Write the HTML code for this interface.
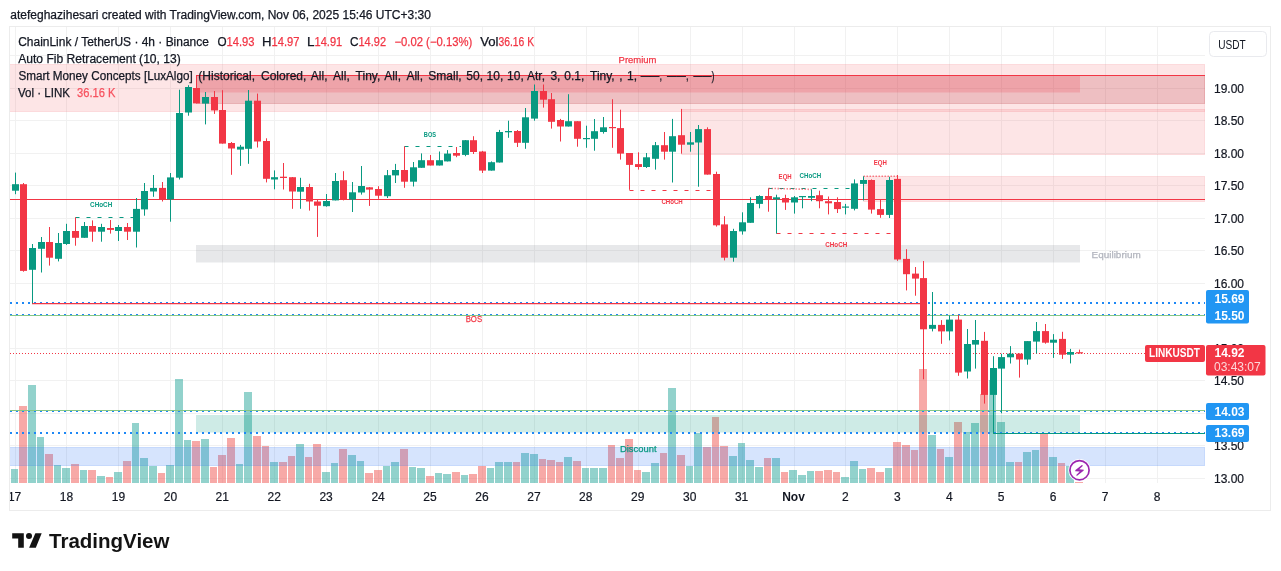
<!DOCTYPE html>
<html><head><meta charset="utf-8">
<style>
html,body{margin:0;padding:0;background:#fff;width:1281px;height:571px;overflow:hidden}
svg{position:absolute;left:0;top:0;font-family:"Liberation Sans", sans-serif;will-change:transform}
</style></head><body>
<svg width="1281" height="571" viewBox="0 0 1281 571">
<rect x="0" y="0" width="1281" height="571" fill="#fff"/>
<text x="10.3" y="19" font-size="12" fill="#131722" stroke="#131722" stroke-width="0.25" textLength="420.6" lengthAdjust="spacingAndGlyphs">atefeghazihesari created with TradingView.com, Nov 06, 2025 15:46 UTC+3:30</text>
<rect x="9.5" y="26.5" width="1261" height="484" fill="none" stroke="#ececec" stroke-width="1"/>
<defs><clipPath id="pane"><rect x="10" y="27" width="1195" height="483"/></clipPath></defs>
<g clip-path="url(#pane)">
<line x1="15.5" y1="27" x2="15.5" y2="483" stroke="#f1f1f1" stroke-width="1"/>
<line x1="66.5" y1="27" x2="66.5" y2="483" stroke="#f1f1f1" stroke-width="1"/>
<line x1="118.5" y1="27" x2="118.5" y2="483" stroke="#f1f1f1" stroke-width="1"/>
<line x1="170.5" y1="27" x2="170.5" y2="483" stroke="#f1f1f1" stroke-width="1"/>
<line x1="222.5" y1="27" x2="222.5" y2="483" stroke="#f1f1f1" stroke-width="1"/>
<line x1="274.5" y1="27" x2="274.5" y2="483" stroke="#f1f1f1" stroke-width="1"/>
<line x1="326.5" y1="27" x2="326.5" y2="483" stroke="#f1f1f1" stroke-width="1"/>
<line x1="378.5" y1="27" x2="378.5" y2="483" stroke="#f1f1f1" stroke-width="1"/>
<line x1="430.5" y1="27" x2="430.5" y2="483" stroke="#f1f1f1" stroke-width="1"/>
<line x1="482.5" y1="27" x2="482.5" y2="483" stroke="#f1f1f1" stroke-width="1"/>
<line x1="534.5" y1="27" x2="534.5" y2="483" stroke="#f1f1f1" stroke-width="1"/>
<line x1="586.5" y1="27" x2="586.5" y2="483" stroke="#f1f1f1" stroke-width="1"/>
<line x1="638.5" y1="27" x2="638.5" y2="483" stroke="#f1f1f1" stroke-width="1"/>
<line x1="690.5" y1="27" x2="690.5" y2="483" stroke="#f1f1f1" stroke-width="1"/>
<line x1="742.5" y1="27" x2="742.5" y2="483" stroke="#f1f1f1" stroke-width="1"/>
<line x1="794.5" y1="27" x2="794.5" y2="483" stroke="#f1f1f1" stroke-width="1"/>
<line x1="845.5" y1="27" x2="845.5" y2="483" stroke="#f1f1f1" stroke-width="1"/>
<line x1="897.5" y1="27" x2="897.5" y2="483" stroke="#f1f1f1" stroke-width="1"/>
<line x1="949.5" y1="27" x2="949.5" y2="483" stroke="#f1f1f1" stroke-width="1"/>
<line x1="1001.5" y1="27" x2="1001.5" y2="483" stroke="#f1f1f1" stroke-width="1"/>
<line x1="1053.5" y1="27" x2="1053.5" y2="483" stroke="#f1f1f1" stroke-width="1"/>
<line x1="1105.5" y1="27" x2="1105.5" y2="483" stroke="#f1f1f1" stroke-width="1"/>
<line x1="1157.5" y1="27" x2="1157.5" y2="483" stroke="#f1f1f1" stroke-width="1"/>
<line x1="10" y1="55.5" x2="1205" y2="55.5" stroke="#f1f1f1" stroke-width="1"/>
<line x1="10" y1="88.5" x2="1205" y2="88.5" stroke="#f1f1f1" stroke-width="1"/>
<line x1="10" y1="120.5" x2="1205" y2="120.5" stroke="#f1f1f1" stroke-width="1"/>
<line x1="10" y1="153.5" x2="1205" y2="153.5" stroke="#f1f1f1" stroke-width="1"/>
<line x1="10" y1="185.5" x2="1205" y2="185.5" stroke="#f1f1f1" stroke-width="1"/>
<line x1="10" y1="218.5" x2="1205" y2="218.5" stroke="#f1f1f1" stroke-width="1"/>
<line x1="10" y1="250.5" x2="1205" y2="250.5" stroke="#f1f1f1" stroke-width="1"/>
<line x1="10" y1="283.5" x2="1205" y2="283.5" stroke="#f1f1f1" stroke-width="1"/>
<line x1="10" y1="315.5" x2="1205" y2="315.5" stroke="#f1f1f1" stroke-width="1"/>
<line x1="10" y1="348.5" x2="1205" y2="348.5" stroke="#f1f1f1" stroke-width="1"/>
<line x1="10" y1="380.5" x2="1205" y2="380.5" stroke="#f1f1f1" stroke-width="1"/>
<line x1="10" y1="413.5" x2="1205" y2="413.5" stroke="#f1f1f1" stroke-width="1"/>
<line x1="10" y1="445.5" x2="1205" y2="445.5" stroke="#f1f1f1" stroke-width="1"/>
<line x1="10" y1="478.5" x2="1205" y2="478.5" stroke="#f1f1f1" stroke-width="1"/>
<rect x="11" y="469" width="7" height="14" fill="rgba(38,166,154,0.5)"/>
<rect x="19" y="406" width="8" height="77" fill="rgba(239,83,80,0.5)"/>
<rect x="28" y="385" width="8" height="98" fill="rgba(38,166,154,0.5)"/>
<rect x="37" y="437" width="7" height="46" fill="rgba(38,166,154,0.5)"/>
<rect x="45" y="454" width="8" height="29" fill="rgba(239,83,80,0.5)"/>
<rect x="54" y="465" width="7" height="18" fill="rgba(38,166,154,0.5)"/>
<rect x="62" y="468" width="8" height="15" fill="rgba(38,166,154,0.5)"/>
<rect x="71" y="464" width="8" height="19" fill="rgba(239,83,80,0.5)"/>
<rect x="80" y="470" width="7" height="13" fill="rgba(38,166,154,0.5)"/>
<rect x="88" y="470" width="8" height="13" fill="rgba(239,83,80,0.5)"/>
<rect x="97" y="476" width="8" height="7" fill="rgba(38,166,154,0.5)"/>
<rect x="106" y="477" width="7" height="6" fill="rgba(239,83,80,0.5)"/>
<rect x="114" y="472" width="8" height="11" fill="rgba(38,166,154,0.5)"/>
<rect x="123" y="461" width="8" height="22" fill="rgba(239,83,80,0.5)"/>
<rect x="132" y="423" width="7" height="60" fill="rgba(38,166,154,0.5)"/>
<rect x="140" y="458" width="8" height="25" fill="rgba(38,166,154,0.5)"/>
<rect x="149" y="466" width="8" height="17" fill="rgba(38,166,154,0.5)"/>
<rect x="158" y="473" width="7" height="10" fill="rgba(239,83,80,0.5)"/>
<rect x="166" y="465" width="8" height="18" fill="rgba(38,166,154,0.5)"/>
<rect x="175" y="379" width="8" height="104" fill="rgba(38,166,154,0.5)"/>
<rect x="184" y="440" width="7" height="43" fill="rgba(38,166,154,0.5)"/>
<rect x="192" y="441" width="8" height="42" fill="rgba(239,83,80,0.5)"/>
<rect x="201" y="439" width="8" height="44" fill="rgba(38,166,154,0.5)"/>
<rect x="210" y="467" width="7" height="16" fill="rgba(239,83,80,0.5)"/>
<rect x="218" y="455" width="8" height="28" fill="rgba(239,83,80,0.5)"/>
<rect x="227" y="438" width="8" height="45" fill="rgba(239,83,80,0.5)"/>
<rect x="236" y="464" width="7" height="19" fill="rgba(38,166,154,0.5)"/>
<rect x="244" y="392" width="8" height="91" fill="rgba(38,166,154,0.5)"/>
<rect x="253" y="436" width="8" height="47" fill="rgba(239,83,80,0.5)"/>
<rect x="262" y="446" width="7" height="37" fill="rgba(239,83,80,0.5)"/>
<rect x="270" y="462" width="8" height="21" fill="rgba(38,166,154,0.5)"/>
<rect x="279" y="462" width="8" height="21" fill="rgba(239,83,80,0.5)"/>
<rect x="288" y="456" width="7" height="27" fill="rgba(239,83,80,0.5)"/>
<rect x="296" y="444" width="8" height="39" fill="rgba(38,166,154,0.5)"/>
<rect x="305" y="457" width="7" height="26" fill="rgba(239,83,80,0.5)"/>
<rect x="313" y="444" width="8" height="39" fill="rgba(239,83,80,0.5)"/>
<rect x="322" y="472" width="8" height="11" fill="rgba(38,166,154,0.5)"/>
<rect x="331" y="463" width="7" height="20" fill="rgba(38,166,154,0.5)"/>
<rect x="339" y="449" width="8" height="34" fill="rgba(239,83,80,0.5)"/>
<rect x="348" y="455" width="8" height="28" fill="rgba(38,166,154,0.5)"/>
<rect x="357" y="461" width="7" height="22" fill="rgba(38,166,154,0.5)"/>
<rect x="365" y="473" width="8" height="10" fill="rgba(239,83,80,0.5)"/>
<rect x="374" y="470" width="8" height="13" fill="rgba(239,83,80,0.5)"/>
<rect x="383" y="466" width="7" height="17" fill="rgba(38,166,154,0.5)"/>
<rect x="391" y="462" width="8" height="21" fill="rgba(38,166,154,0.5)"/>
<rect x="400" y="449" width="8" height="34" fill="rgba(239,83,80,0.5)"/>
<rect x="409" y="467" width="7" height="16" fill="rgba(38,166,154,0.5)"/>
<rect x="417" y="468" width="8" height="15" fill="rgba(38,166,154,0.5)"/>
<rect x="426" y="476" width="8" height="7" fill="rgba(239,83,80,0.5)"/>
<rect x="435" y="473" width="7" height="10" fill="rgba(38,166,154,0.5)"/>
<rect x="443" y="474" width="8" height="9" fill="rgba(38,166,154,0.5)"/>
<rect x="452" y="472" width="8" height="11" fill="rgba(239,83,80,0.5)"/>
<rect x="461" y="475" width="7" height="8" fill="rgba(38,166,154,0.5)"/>
<rect x="469" y="474" width="8" height="9" fill="rgba(239,83,80,0.5)"/>
<rect x="478" y="466" width="8" height="17" fill="rgba(239,83,80,0.5)"/>
<rect x="487" y="468" width="7" height="15" fill="rgba(38,166,154,0.5)"/>
<rect x="495" y="462" width="8" height="21" fill="rgba(38,166,154,0.5)"/>
<rect x="504" y="462" width="8" height="21" fill="rgba(38,166,154,0.5)"/>
<rect x="513" y="462" width="7" height="21" fill="rgba(239,83,80,0.5)"/>
<rect x="521" y="453" width="8" height="30" fill="rgba(38,166,154,0.5)"/>
<rect x="530" y="454" width="8" height="29" fill="rgba(38,166,154,0.5)"/>
<rect x="539" y="459" width="7" height="24" fill="rgba(239,83,80,0.5)"/>
<rect x="547" y="460" width="8" height="23" fill="rgba(239,83,80,0.5)"/>
<rect x="556" y="462" width="7" height="21" fill="rgba(239,83,80,0.5)"/>
<rect x="564" y="457" width="8" height="26" fill="rgba(38,166,154,0.5)"/>
<rect x="573" y="461" width="8" height="22" fill="rgba(239,83,80,0.5)"/>
<rect x="582" y="468" width="7" height="15" fill="rgba(38,166,154,0.5)"/>
<rect x="590" y="468" width="8" height="15" fill="rgba(38,166,154,0.5)"/>
<rect x="599" y="468" width="8" height="15" fill="rgba(38,166,154,0.5)"/>
<rect x="608" y="445" width="7" height="38" fill="rgba(239,83,80,0.5)"/>
<rect x="616" y="458" width="8" height="25" fill="rgba(239,83,80,0.5)"/>
<rect x="625" y="439" width="8" height="44" fill="rgba(239,83,80,0.5)"/>
<rect x="634" y="470" width="7" height="13" fill="rgba(239,83,80,0.5)"/>
<rect x="642" y="472" width="8" height="11" fill="rgba(38,166,154,0.5)"/>
<rect x="651" y="463" width="8" height="20" fill="rgba(38,166,154,0.5)"/>
<rect x="660" y="453" width="7" height="30" fill="rgba(239,83,80,0.5)"/>
<rect x="668" y="388" width="8" height="95" fill="rgba(38,166,154,0.5)"/>
<rect x="677" y="455" width="8" height="28" fill="rgba(239,83,80,0.5)"/>
<rect x="686" y="466" width="7" height="17" fill="rgba(38,166,154,0.5)"/>
<rect x="694" y="433" width="8" height="50" fill="rgba(38,166,154,0.5)"/>
<rect x="703" y="447" width="8" height="36" fill="rgba(239,83,80,0.5)"/>
<rect x="712" y="417" width="7" height="66" fill="rgba(239,83,80,0.5)"/>
<rect x="720" y="446" width="8" height="37" fill="rgba(239,83,80,0.5)"/>
<rect x="729" y="456" width="8" height="27" fill="rgba(38,166,154,0.5)"/>
<rect x="738" y="443" width="7" height="40" fill="rgba(38,166,154,0.5)"/>
<rect x="746" y="460" width="8" height="23" fill="rgba(38,166,154,0.5)"/>
<rect x="755" y="467" width="8" height="16" fill="rgba(38,166,154,0.5)"/>
<rect x="764" y="458" width="7" height="25" fill="rgba(239,83,80,0.5)"/>
<rect x="772" y="458" width="8" height="25" fill="rgba(38,166,154,0.5)"/>
<rect x="781" y="472" width="7" height="11" fill="rgba(239,83,80,0.5)"/>
<rect x="789" y="470" width="8" height="13" fill="rgba(38,166,154,0.5)"/>
<rect x="798" y="475" width="8" height="8" fill="rgba(38,166,154,0.5)"/>
<rect x="807" y="471" width="7" height="12" fill="rgba(38,166,154,0.5)"/>
<rect x="815" y="471" width="8" height="12" fill="rgba(239,83,80,0.5)"/>
<rect x="824" y="470" width="8" height="13" fill="rgba(239,83,80,0.5)"/>
<rect x="833" y="472" width="7" height="11" fill="rgba(239,83,80,0.5)"/>
<rect x="841" y="477" width="8" height="6" fill="rgba(38,166,154,0.5)"/>
<rect x="850" y="461" width="8" height="22" fill="rgba(38,166,154,0.5)"/>
<rect x="859" y="469" width="7" height="14" fill="rgba(38,166,154,0.5)"/>
<rect x="867" y="468" width="8" height="15" fill="rgba(239,83,80,0.5)"/>
<rect x="876" y="472" width="8" height="11" fill="rgba(239,83,80,0.5)"/>
<rect x="885" y="468" width="7" height="15" fill="rgba(38,166,154,0.5)"/>
<rect x="893" y="442" width="8" height="41" fill="rgba(239,83,80,0.5)"/>
<rect x="902" y="445" width="8" height="38" fill="rgba(239,83,80,0.5)"/>
<rect x="911" y="450" width="7" height="33" fill="rgba(239,83,80,0.5)"/>
<rect x="919" y="369" width="8" height="114" fill="rgba(239,83,80,0.5)"/>
<rect x="928" y="435" width="8" height="48" fill="rgba(38,166,154,0.5)"/>
<rect x="937" y="449" width="7" height="34" fill="rgba(239,83,80,0.5)"/>
<rect x="945" y="457" width="8" height="26" fill="rgba(38,166,154,0.5)"/>
<rect x="954" y="422" width="8" height="61" fill="rgba(239,83,80,0.5)"/>
<rect x="963" y="432" width="7" height="51" fill="rgba(38,166,154,0.5)"/>
<rect x="971" y="423" width="8" height="60" fill="rgba(38,166,154,0.5)"/>
<rect x="980" y="394" width="8" height="89" fill="rgba(239,83,80,0.5)"/>
<rect x="989" y="380" width="7" height="103" fill="rgba(38,166,154,0.5)"/>
<rect x="997" y="422" width="8" height="61" fill="rgba(38,166,154,0.5)"/>
<rect x="1006" y="462" width="8" height="21" fill="rgba(38,166,154,0.5)"/>
<rect x="1015" y="462" width="7" height="21" fill="rgba(239,83,80,0.5)"/>
<rect x="1023" y="452" width="8" height="31" fill="rgba(38,166,154,0.5)"/>
<rect x="1032" y="450" width="7" height="33" fill="rgba(38,166,154,0.5)"/>
<rect x="1040" y="434" width="8" height="49" fill="rgba(239,83,80,0.5)"/>
<rect x="1049" y="457" width="8" height="26" fill="rgba(38,166,154,0.5)"/>
<rect x="1058" y="463" width="7" height="20" fill="rgba(239,83,80,0.5)"/>
<rect x="1066" y="466" width="8" height="17" fill="rgba(38,166,154,0.5)"/>
<rect x="1075" y="482" width="8" height="1" fill="rgba(239,83,80,0.5)"/>
<rect x="9.5" y="64.5" width="1195.5" height="47" fill="rgba(247,124,128,0.2)" stroke="rgba(247,124,128,0.2)" stroke-width="1"/>
<rect x="196.5" y="75.5" width="1008.5" height="28" fill="rgba(178,40,51,0.2)" stroke="rgba(178,40,51,0.2)"/>
<rect x="196" y="75.5" width="884" height="17" fill="rgba(242,54,69,0.2)"/>
<rect x="681.5" y="109.5" width="523.5" height="45" fill="rgba(247,124,128,0.2)" stroke="rgba(247,124,128,0.2)"/>
<rect x="863.5" y="176.5" width="341.5" height="25" fill="rgba(247,124,128,0.2)" stroke="rgba(247,124,128,0.2)"/>
<rect x="196" y="245" width="884" height="17.5" fill="rgba(135,139,148,0.2)"/>
<rect x="196" y="415" width="884" height="17.5" fill="rgba(8,153,129,0.2)"/>
<rect x="9.5" y="447.5" width="1195.5" height="18" fill="rgba(49,121,245,0.2)" stroke="rgba(49,121,245,0.2)"/>
<line x1="10" y1="303" x2="1205" y2="303" stroke="#1e88f5" stroke-width="2" stroke-dasharray="2 4"/>
<line x1="10" y1="315" x2="1205" y2="315" stroke="#1e88f5" stroke-width="2" stroke-dasharray="2 4"/>
<line x1="10" y1="411" x2="1205" y2="411" stroke="#1e88f5" stroke-width="2" stroke-dasharray="2 4"/>
<line x1="10" y1="433" x2="1205" y2="433" stroke="#1e88f5" stroke-width="2" stroke-dasharray="2 4"/>
<line x1="196" y1="75.5" x2="1205" y2="75.5" stroke="#f23645" stroke-width="1.2"/>
<line x1="10" y1="199.5" x2="1205" y2="199.5" stroke="#f23645" stroke-width="1.2"/>
<line x1="32" y1="303.6" x2="920" y2="303.6" stroke="#f23645" stroke-width="1.2"/>
<line x1="10" y1="315.5" x2="1205" y2="315.5" stroke="#85c686" stroke-width="1"/>
<line x1="10" y1="353.5" x2="1145" y2="353.5" stroke="#f23645" stroke-width="1" stroke-dasharray="1 2"/>
<line x1="10" y1="410.5" x2="1205" y2="410.5" stroke="#85c686" stroke-width="1"/>
<line x1="993" y1="433.5" x2="1205" y2="433.5" stroke="#089981" stroke-width="1"/>
<line x1="75.5" y1="217.5" x2="133" y2="217.5" stroke="#089981" stroke-width="1" stroke-dasharray="4 7"/>
<line x1="404.5" y1="146.5" x2="461" y2="146.5" stroke="#089981" stroke-width="1" stroke-dasharray="4 7"/>
<line x1="629.5" y1="190.5" x2="712" y2="190.5" stroke="#f23645" stroke-width="1" stroke-dasharray="4 7"/>
<line x1="768.5" y1="188.5" x2="851" y2="188.5" stroke="#089981" stroke-width="1" stroke-dasharray="4 7"/>
<line x1="768.5" y1="188.4" x2="811.5" y2="189.4" stroke="rgba(242,54,69,0.6)" stroke-width="1.6" stroke-dasharray="1.5 1.5"/>
<line x1="776.5" y1="233.5" x2="891" y2="233.5" stroke="#f23645" stroke-width="1" stroke-dasharray="4 7"/>
<line x1="863.5" y1="176.2" x2="897" y2="176.2" stroke="rgba(242,54,69,0.6)" stroke-width="1.6" stroke-dasharray="1.5 1.5"/>
<rect x="15" y="172.6" width="1" height="21.6" fill="#089981"/>
<rect x="12" y="184.2" width="7" height="6.5" fill="#089981"/>
<rect x="23" y="183.0" width="1" height="88.7" fill="#f23645"/>
<rect x="20" y="184.2" width="7" height="86.7" fill="#f23645"/>
<rect x="32" y="244.0" width="1" height="59.2" fill="#089981"/>
<rect x="29" y="248.0" width="7" height="21.8" fill="#089981"/>
<rect x="41" y="237.0" width="1" height="35.5" fill="#089981"/>
<rect x="38" y="242.0" width="7" height="6.8" fill="#089981"/>
<rect x="49" y="227.0" width="1" height="38.6" fill="#f23645"/>
<rect x="46" y="242.0" width="7" height="15.7" fill="#f23645"/>
<rect x="58" y="233.0" width="1" height="28.4" fill="#089981"/>
<rect x="55" y="243.0" width="7" height="15.8" fill="#089981"/>
<rect x="66" y="223.8" width="1" height="21.1" fill="#089981"/>
<rect x="63" y="231.0" width="7" height="13.0" fill="#089981"/>
<rect x="75" y="217.3" width="1" height="28.4" fill="#f23645"/>
<rect x="72" y="231.0" width="7" height="6.8" fill="#f23645"/>
<rect x="84" y="222.0" width="1" height="15.8" fill="#089981"/>
<rect x="81" y="226.0" width="7" height="11.8" fill="#089981"/>
<rect x="92" y="220.4" width="1" height="21.3" fill="#f23645"/>
<rect x="89" y="226.0" width="7" height="5.7" fill="#f23645"/>
<rect x="101" y="223.8" width="1" height="17.9" fill="#089981"/>
<rect x="98" y="227.0" width="7" height="4.7" fill="#089981"/>
<rect x="110" y="220.0" width="1" height="13.6" fill="#f23645"/>
<rect x="107" y="228.0" width="7" height="1.9" fill="#f23645"/>
<rect x="118" y="225.0" width="1" height="16.0" fill="#089981"/>
<rect x="115" y="227.0" width="7" height="4.0" fill="#089981"/>
<rect x="127" y="223.0" width="1" height="17.0" fill="#f23645"/>
<rect x="124" y="227.0" width="7" height="4.7" fill="#f23645"/>
<rect x="136" y="198.0" width="1" height="49.5" fill="#089981"/>
<rect x="133" y="208.9" width="7" height="22.8" fill="#089981"/>
<rect x="144" y="183.0" width="1" height="32.7" fill="#089981"/>
<rect x="141" y="191.0" width="7" height="18.4" fill="#089981"/>
<rect x="153" y="175.0" width="1" height="21.8" fill="#089981"/>
<rect x="150" y="187.9" width="7" height="3.6" fill="#089981"/>
<rect x="162" y="182.0" width="1" height="19.5" fill="#f23645"/>
<rect x="159" y="187.9" width="7" height="12.1" fill="#f23645"/>
<rect x="170" y="173.0" width="1" height="48.7" fill="#089981"/>
<rect x="167" y="177.4" width="7" height="22.0" fill="#089981"/>
<rect x="179" y="89.7" width="1" height="89.8" fill="#089981"/>
<rect x="176" y="113.0" width="7" height="64.7" fill="#089981"/>
<rect x="188" y="85.2" width="1" height="30.5" fill="#089981"/>
<rect x="185" y="87.0" width="7" height="25.5" fill="#089981"/>
<rect x="196" y="75.2" width="1" height="28.2" fill="#f23645"/>
<rect x="193" y="88.0" width="7" height="15.4" fill="#f23645"/>
<rect x="205" y="92.0" width="1" height="32.4" fill="#089981"/>
<rect x="202" y="97.0" width="7" height="6.6" fill="#089981"/>
<rect x="214" y="91.0" width="1" height="22.9" fill="#f23645"/>
<rect x="211" y="97.0" width="7" height="13.4" fill="#f23645"/>
<rect x="222" y="90.2" width="1" height="53.4" fill="#f23645"/>
<rect x="219" y="110.0" width="7" height="33.6" fill="#f23645"/>
<rect x="231" y="142.0" width="1" height="32.8" fill="#f23645"/>
<rect x="228" y="143.0" width="7" height="5.5" fill="#f23645"/>
<rect x="240" y="144.9" width="1" height="21.0" fill="#089981"/>
<rect x="237" y="146.7" width="7" height="2.9" fill="#089981"/>
<rect x="248" y="90.0" width="1" height="73.8" fill="#089981"/>
<rect x="245" y="100.7" width="7" height="48.1" fill="#089981"/>
<rect x="257" y="93.6" width="1" height="53.9" fill="#f23645"/>
<rect x="254" y="100.7" width="7" height="40.8" fill="#f23645"/>
<rect x="266" y="138.3" width="1" height="44.1" fill="#f23645"/>
<rect x="263" y="141.0" width="7" height="37.8" fill="#f23645"/>
<rect x="274" y="170.4" width="1" height="18.9" fill="#089981"/>
<rect x="271" y="177.2" width="7" height="2.3" fill="#089981"/>
<rect x="283" y="163.0" width="1" height="26.5" fill="#f23645"/>
<rect x="280" y="176.7" width="7" height="1.3" fill="#f23645"/>
<rect x="292" y="177.0" width="1" height="31.8" fill="#f23645"/>
<rect x="289" y="177.2" width="7" height="14.3" fill="#f23645"/>
<rect x="300" y="177.8" width="1" height="31.0" fill="#089981"/>
<rect x="297" y="187.0" width="7" height="4.7" fill="#089981"/>
<rect x="309" y="183.8" width="1" height="26.8" fill="#f23645"/>
<rect x="306" y="187.0" width="7" height="14.5" fill="#f23645"/>
<rect x="317" y="199.3" width="1" height="37.6" fill="#f23645"/>
<rect x="314" y="201.5" width="7" height="4.2" fill="#f23645"/>
<rect x="326" y="194.0" width="1" height="12.7" fill="#089981"/>
<rect x="323" y="201.0" width="7" height="5.2" fill="#089981"/>
<rect x="335" y="173.0" width="1" height="27.4" fill="#089981"/>
<rect x="332" y="181.0" width="7" height="19.4" fill="#089981"/>
<rect x="343" y="171.2" width="1" height="29.2" fill="#f23645"/>
<rect x="340" y="180.2" width="7" height="19.4" fill="#f23645"/>
<rect x="352" y="182.0" width="1" height="30.0" fill="#089981"/>
<rect x="349" y="192.3" width="7" height="7.3" fill="#089981"/>
<rect x="361" y="166.0" width="1" height="28.6" fill="#089981"/>
<rect x="358" y="186.0" width="7" height="6.5" fill="#089981"/>
<rect x="369" y="187.0" width="1" height="18.9" fill="#f23645"/>
<rect x="366" y="187.3" width="7" height="2.3" fill="#f23645"/>
<rect x="378" y="186.2" width="1" height="12.6" fill="#f23645"/>
<rect x="375" y="189.0" width="7" height="6.7" fill="#f23645"/>
<rect x="387" y="170.0" width="1" height="28.0" fill="#089981"/>
<rect x="384" y="175.2" width="7" height="21.0" fill="#089981"/>
<rect x="395" y="163.9" width="1" height="19.1" fill="#089981"/>
<rect x="392" y="170.0" width="7" height="5.4" fill="#089981"/>
<rect x="404" y="146.3" width="1" height="41.5" fill="#f23645"/>
<rect x="401" y="170.0" width="7" height="11.7" fill="#f23645"/>
<rect x="413" y="162.0" width="1" height="24.5" fill="#089981"/>
<rect x="410" y="167.3" width="7" height="14.4" fill="#089981"/>
<rect x="421" y="153.4" width="1" height="14.4" fill="#089981"/>
<rect x="418" y="160.2" width="7" height="7.6" fill="#089981"/>
<rect x="430" y="155.0" width="1" height="10.5" fill="#f23645"/>
<rect x="427" y="160.2" width="7" height="5.3" fill="#f23645"/>
<rect x="439" y="151.5" width="1" height="14.0" fill="#089981"/>
<rect x="436" y="160.2" width="7" height="5.3" fill="#089981"/>
<rect x="447" y="150.1" width="1" height="11.3" fill="#089981"/>
<rect x="444" y="153.6" width="7" height="7.8" fill="#089981"/>
<rect x="456" y="147.0" width="1" height="10.2" fill="#f23645"/>
<rect x="453" y="153.0" width="7" height="2.7" fill="#f23645"/>
<rect x="465" y="140.0" width="1" height="16.2" fill="#089981"/>
<rect x="462" y="140.2" width="7" height="14.7" fill="#089981"/>
<rect x="473" y="136.2" width="1" height="17.8" fill="#f23645"/>
<rect x="470" y="140.2" width="7" height="11.8" fill="#f23645"/>
<rect x="482" y="150.9" width="1" height="22.1" fill="#f23645"/>
<rect x="479" y="151.5" width="7" height="19.1" fill="#f23645"/>
<rect x="491" y="161.4" width="1" height="9.2" fill="#089981"/>
<rect x="488" y="162.2" width="7" height="8.4" fill="#089981"/>
<rect x="499" y="129.9" width="1" height="32.6" fill="#089981"/>
<rect x="496" y="132.0" width="7" height="30.5" fill="#089981"/>
<rect x="508" y="120.7" width="1" height="17.1" fill="#089981"/>
<rect x="505" y="131.0" width="7" height="1.3" fill="#089981"/>
<rect x="517" y="130.0" width="1" height="17.0" fill="#f23645"/>
<rect x="514" y="131.0" width="7" height="11.8" fill="#f23645"/>
<rect x="525" y="108.0" width="1" height="40.8" fill="#089981"/>
<rect x="522" y="117.3" width="7" height="25.5" fill="#089981"/>
<rect x="534" y="84.5" width="1" height="36.2" fill="#089981"/>
<rect x="531" y="91.0" width="7" height="27.6" fill="#089981"/>
<rect x="543" y="84.5" width="1" height="23.1" fill="#f23645"/>
<rect x="540" y="91.0" width="7" height="8.7" fill="#f23645"/>
<rect x="551" y="93.0" width="1" height="35.6" fill="#f23645"/>
<rect x="548" y="99.2" width="7" height="22.6" fill="#f23645"/>
<rect x="560" y="118.9" width="1" height="22.6" fill="#f23645"/>
<rect x="557" y="120.0" width="7" height="6.5" fill="#f23645"/>
<rect x="568" y="94.2" width="1" height="32.3" fill="#089981"/>
<rect x="565" y="121.2" width="7" height="5.3" fill="#089981"/>
<rect x="577" y="121.2" width="1" height="25.5" fill="#f23645"/>
<rect x="574" y="121.2" width="7" height="17.6" fill="#f23645"/>
<rect x="586" y="125.7" width="1" height="22.1" fill="#089981"/>
<rect x="583" y="138.0" width="7" height="1.2" fill="#089981"/>
<rect x="594" y="119.0" width="1" height="31.7" fill="#089981"/>
<rect x="591" y="131.2" width="7" height="7.6" fill="#089981"/>
<rect x="603" y="117.0" width="1" height="16.6" fill="#089981"/>
<rect x="600" y="127.3" width="7" height="4.7" fill="#089981"/>
<rect x="612" y="99.2" width="1" height="48.6" fill="#f23645"/>
<rect x="609" y="127.0" width="7" height="1.2" fill="#f23645"/>
<rect x="620" y="109.7" width="1" height="49.9" fill="#f23645"/>
<rect x="617" y="128.1" width="7" height="25.5" fill="#f23645"/>
<rect x="629" y="153.0" width="1" height="36.8" fill="#f23645"/>
<rect x="626" y="153.0" width="7" height="11.9" fill="#f23645"/>
<rect x="638" y="152.3" width="1" height="17.3" fill="#f23645"/>
<rect x="635" y="164.1" width="7" height="2.9" fill="#f23645"/>
<rect x="646" y="153.0" width="1" height="15.0" fill="#089981"/>
<rect x="643" y="157.3" width="7" height="9.7" fill="#089981"/>
<rect x="655" y="142.0" width="1" height="27.6" fill="#089981"/>
<rect x="652" y="145.2" width="7" height="13.6" fill="#089981"/>
<rect x="664" y="132.0" width="1" height="27.6" fill="#f23645"/>
<rect x="661" y="145.2" width="7" height="6.5" fill="#f23645"/>
<rect x="672" y="118.9" width="1" height="63.6" fill="#089981"/>
<rect x="669" y="136.2" width="7" height="15.5" fill="#089981"/>
<rect x="681" y="108.9" width="1" height="44.7" fill="#f23645"/>
<rect x="678" y="135.2" width="7" height="9.5" fill="#f23645"/>
<rect x="690" y="132.0" width="1" height="19.7" fill="#089981"/>
<rect x="687" y="142.3" width="7" height="2.4" fill="#089981"/>
<rect x="698" y="125.0" width="1" height="61.7" fill="#089981"/>
<rect x="695" y="129.1" width="7" height="13.4" fill="#089981"/>
<rect x="707" y="127.3" width="1" height="47.3" fill="#f23645"/>
<rect x="704" y="129.1" width="7" height="45.5" fill="#f23645"/>
<rect x="716" y="171.7" width="1" height="54.9" fill="#f23645"/>
<rect x="713" y="174.0" width="7" height="51.3" fill="#f23645"/>
<rect x="724" y="216.2" width="1" height="44.2" fill="#f23645"/>
<rect x="721" y="224.4" width="7" height="33.3" fill="#f23645"/>
<rect x="733" y="228.8" width="1" height="32.9" fill="#089981"/>
<rect x="730" y="231.0" width="7" height="26.7" fill="#089981"/>
<rect x="742" y="212.3" width="1" height="22.3" fill="#089981"/>
<rect x="739" y="222.3" width="7" height="9.1" fill="#089981"/>
<rect x="750" y="197.3" width="1" height="25.5" fill="#089981"/>
<rect x="747" y="203.0" width="7" height="19.8" fill="#089981"/>
<rect x="759" y="195.2" width="1" height="13.1" fill="#089981"/>
<rect x="756" y="196.0" width="7" height="7.9" fill="#089981"/>
<rect x="768" y="188.5" width="1" height="23.2" fill="#f23645"/>
<rect x="765" y="196.0" width="7" height="3.4" fill="#f23645"/>
<rect x="776" y="194.7" width="1" height="38.9" fill="#089981"/>
<rect x="773" y="197.3" width="7" height="2.1" fill="#089981"/>
<rect x="785" y="194.7" width="1" height="15.2" fill="#f23645"/>
<rect x="782" y="198.0" width="7" height="4.5" fill="#f23645"/>
<rect x="794" y="196.0" width="1" height="17.6" fill="#089981"/>
<rect x="791" y="197.3" width="7" height="5.2" fill="#089981"/>
<rect x="802" y="196.0" width="1" height="12.3" fill="#089981"/>
<rect x="799" y="196.0" width="7" height="1.2" fill="#089981"/>
<rect x="811" y="189.3" width="1" height="11.9" fill="#089981"/>
<rect x="808" y="196.0" width="7" height="1.8" fill="#089981"/>
<rect x="819" y="190.7" width="1" height="17.6" fill="#f23645"/>
<rect x="816" y="195.2" width="7" height="6.0" fill="#f23645"/>
<rect x="828" y="196.5" width="1" height="17.9" fill="#f23645"/>
<rect x="825" y="201.2" width="7" height="2.1" fill="#f23645"/>
<rect x="837" y="197.3" width="1" height="15.7" fill="#f23645"/>
<rect x="834" y="202.0" width="7" height="7.1" fill="#f23645"/>
<rect x="845" y="203.9" width="1" height="10.5" fill="#089981"/>
<rect x="842" y="206.5" width="7" height="1.2" fill="#089981"/>
<rect x="854" y="179.4" width="1" height="31.0" fill="#089981"/>
<rect x="851" y="183.4" width="7" height="25.4" fill="#089981"/>
<rect x="863" y="176.3" width="1" height="24.1" fill="#089981"/>
<rect x="860" y="180.0" width="7" height="3.9" fill="#089981"/>
<rect x="871" y="179.4" width="1" height="34.2" fill="#f23645"/>
<rect x="868" y="180.0" width="7" height="29.6" fill="#f23645"/>
<rect x="880" y="199.9" width="1" height="17.9" fill="#f23645"/>
<rect x="877" y="209.1" width="7" height="5.8" fill="#f23645"/>
<rect x="889" y="176.8" width="1" height="41.2" fill="#089981"/>
<rect x="886" y="180.0" width="7" height="34.9" fill="#089981"/>
<rect x="897" y="175.0" width="1" height="85.9" fill="#f23645"/>
<rect x="894" y="178.9" width="7" height="80.6" fill="#f23645"/>
<rect x="906" y="249.2" width="1" height="41.2" fill="#f23645"/>
<rect x="903" y="258.9" width="7" height="15.3" fill="#f23645"/>
<rect x="915" y="267.0" width="1" height="28.7" fill="#f23645"/>
<rect x="912" y="273.6" width="7" height="5.0" fill="#f23645"/>
<rect x="923" y="261.0" width="1" height="118.3" fill="#f23645"/>
<rect x="920" y="278.1" width="7" height="51.2" fill="#f23645"/>
<rect x="932" y="292.0" width="1" height="39.4" fill="#089981"/>
<rect x="929" y="324.9" width="7" height="3.9" fill="#089981"/>
<rect x="941" y="320.1" width="1" height="23.7" fill="#f23645"/>
<rect x="938" y="324.9" width="7" height="6.5" fill="#f23645"/>
<rect x="949" y="315.4" width="1" height="25.0" fill="#089981"/>
<rect x="946" y="319.6" width="7" height="11.8" fill="#089981"/>
<rect x="958" y="314.9" width="1" height="60.9" fill="#f23645"/>
<rect x="955" y="319.6" width="7" height="53.0" fill="#f23645"/>
<rect x="967" y="329.0" width="1" height="49.5" fill="#089981"/>
<rect x="964" y="344.0" width="7" height="27.5" fill="#089981"/>
<rect x="975" y="320.0" width="1" height="48.6" fill="#089981"/>
<rect x="972" y="340.0" width="7" height="4.6" fill="#089981"/>
<rect x="984" y="331.9" width="1" height="71.7" fill="#f23645"/>
<rect x="981" y="340.8" width="7" height="54.1" fill="#f23645"/>
<rect x="993" y="356.2" width="1" height="76.8" fill="#089981"/>
<rect x="990" y="368.0" width="7" height="26.9" fill="#089981"/>
<rect x="1001" y="353.8" width="1" height="59.5" fill="#089981"/>
<rect x="998" y="357.1" width="7" height="11.5" fill="#089981"/>
<rect x="1010" y="346.1" width="1" height="17.4" fill="#089981"/>
<rect x="1007" y="353.7" width="7" height="3.6" fill="#089981"/>
<rect x="1019" y="353.5" width="1" height="24.1" fill="#f23645"/>
<rect x="1016" y="353.7" width="7" height="5.8" fill="#f23645"/>
<rect x="1027" y="341.1" width="1" height="23.6" fill="#089981"/>
<rect x="1024" y="341.1" width="7" height="18.4" fill="#089981"/>
<rect x="1036" y="322.0" width="1" height="31.5" fill="#089981"/>
<rect x="1033" y="331.1" width="7" height="10.5" fill="#089981"/>
<rect x="1045" y="324.0" width="1" height="19.7" fill="#f23645"/>
<rect x="1042" y="331.1" width="7" height="11.6" fill="#f23645"/>
<rect x="1053" y="334.1" width="1" height="23.8" fill="#089981"/>
<rect x="1050" y="339.7" width="7" height="3.0" fill="#089981"/>
<rect x="1062" y="331.8" width="1" height="27.1" fill="#f23645"/>
<rect x="1059" y="338.9" width="7" height="15.8" fill="#f23645"/>
<rect x="1070" y="348.9" width="1" height="14.5" fill="#089981"/>
<rect x="1067" y="352.0" width="7" height="2.7" fill="#089981"/>
<rect x="1079" y="349.6" width="1" height="3.9" fill="#f23645"/>
<rect x="1076" y="352.2" width="7" height="1.2" fill="#f23645"/>
</g>
<line x1="1205.5" y1="27" x2="1205.5" y2="57" stroke="none"/>
<rect x="1209.5" y="31.5" width="57" height="25" rx="4" fill="#fff" stroke="#e9eaee"/>
<text x="1218.2" y="48.8" font-size="12" fill="#131722" textLength="27.5" lengthAdjust="spacingAndGlyphs">USDT</text>
<text x="618.6" y="62.8" font-size="9.6" fill="#f23645" stroke="#f23645" stroke-width="0.25" font-weight="normal" textLength="37.9" lengthAdjust="spacingAndGlyphs">Premium</text>
<text x="423.8" y="137.0" font-size="7" fill="#089981" stroke="#089981" stroke-width="0" font-weight="bold" textLength="12.3" lengthAdjust="spacingAndGlyphs">BOS</text>
<text x="465.7" y="321.9" font-size="9.5" fill="#f23645" stroke="#f23645" stroke-width="0.25" font-weight="normal" textLength="16.4" lengthAdjust="spacingAndGlyphs">BOS</text>
<text x="90.1" y="207.1" font-size="7" fill="#089981" stroke="#089981" stroke-width="0" font-weight="bold" textLength="22.1" lengthAdjust="spacingAndGlyphs">CHoCH</text>
<text x="661.4" y="203.8" font-size="7" fill="#f23645" stroke="#f23645" stroke-width="0" font-weight="bold" textLength="21.4" lengthAdjust="spacingAndGlyphs">CHoCH</text>
<text x="778.6" y="179.0" font-size="7" fill="#f23645" stroke="#f23645" stroke-width="0" font-weight="bold" textLength="13.1" lengthAdjust="spacingAndGlyphs">EQH</text>
<text x="799.6" y="178.0" font-size="7" fill="#089981" stroke="#089981" stroke-width="0" font-weight="bold" textLength="21.6" lengthAdjust="spacingAndGlyphs">CHoCH</text>
<text x="873.7" y="165.2" font-size="7" fill="#f23645" stroke="#f23645" stroke-width="0" font-weight="bold" textLength="13.1" lengthAdjust="spacingAndGlyphs">EQH</text>
<text x="825.3" y="246.9" font-size="7" fill="#f23645" stroke="#f23645" stroke-width="0" font-weight="bold" textLength="21.9" lengthAdjust="spacingAndGlyphs">CHoCH</text>
<text x="1091.6" y="257.8" font-size="9.2" fill="#b2b5be" stroke="#b2b5be" stroke-width="0.25" font-weight="normal" textLength="49.1" lengthAdjust="spacingAndGlyphs">Equilibrium</text>
<text x="620" y="451.8" font-size="9.5" fill="#089981" stroke="#089981" stroke-width="0.25" font-weight="normal" textLength="36.5" lengthAdjust="spacingAndGlyphs">Discount</text>
<text x="18.2" y="46" font-size="12" fill="#131722" stroke="#131722" stroke-width="0.25" font-weight="normal" textLength="190.7" lengthAdjust="spacingAndGlyphs">ChainLink / TetherUS · 4h · Binance</text>
<text x="217.4" y="46" font-size="12" fill="#131722" stroke="#131722" stroke-width="0.25" font-weight="normal" textLength="9.1" lengthAdjust="spacingAndGlyphs">O</text>
<text x="226.5" y="46" font-size="12" fill="#f23645" stroke="#f23645" stroke-width="0.25" font-weight="normal" textLength="28.0" lengthAdjust="spacingAndGlyphs">14.93</text>
<text x="262" y="46" font-size="12" fill="#131722" stroke="#131722" stroke-width="0.25" font-weight="normal" textLength="9.5" lengthAdjust="spacingAndGlyphs">H</text>
<text x="271.5" y="46" font-size="12" fill="#f23645" stroke="#f23645" stroke-width="0.25" font-weight="normal" textLength="27.9" lengthAdjust="spacingAndGlyphs">14.97</text>
<text x="307" y="46" font-size="12" fill="#131722" stroke="#131722" stroke-width="0.25" font-weight="normal" textLength="7.5" lengthAdjust="spacingAndGlyphs">L</text>
<text x="314.5" y="46" font-size="12" fill="#f23645" stroke="#f23645" stroke-width="0.25" font-weight="normal" textLength="27.7" lengthAdjust="spacingAndGlyphs">14.91</text>
<text x="350" y="46" font-size="12" fill="#131722" stroke="#131722" stroke-width="0.25" font-weight="normal" textLength="8.5" lengthAdjust="spacingAndGlyphs">C</text>
<text x="358.5" y="46" font-size="12" fill="#f23645" stroke="#f23645" stroke-width="0.25" font-weight="normal" textLength="27.5" lengthAdjust="spacingAndGlyphs">14.92</text>
<text x="394.4" y="46" font-size="12" fill="#f23645" stroke="#f23645" stroke-width="0.25" font-weight="normal" textLength="77.9" lengthAdjust="spacingAndGlyphs">−0.02 (−0.13%)</text>
<text x="480.2" y="46" font-size="12" fill="#131722" stroke="#131722" stroke-width="0.25" font-weight="normal" textLength="18.3" lengthAdjust="spacingAndGlyphs">Vol</text>
<text x="498.5" y="46" font-size="12" fill="#f23645" stroke="#f23645" stroke-width="0.25" font-weight="normal" textLength="35.6" lengthAdjust="spacingAndGlyphs">36.16 K</text>
<text x="18.2" y="63" font-size="12" fill="#131722" stroke="#131722" stroke-width="0.25" font-weight="normal" textLength="162.6" lengthAdjust="spacingAndGlyphs">Auto Fib Retracement (10, 13)</text>
<text x="18.4" y="80" font-size="12" fill="#131722" stroke="#131722" stroke-width="0.25" font-weight="normal" textLength="174.3" lengthAdjust="spacingAndGlyphs">Smart Money Concepts [LuxAlgo]</text>
<text x="198.3" y="80" font-size="12" fill="#131722" stroke="#131722" stroke-width="0.25">(Historical,</text>
<text x="261" y="80" font-size="12" fill="#131722" stroke="#131722" stroke-width="0.25">Colored,</text>
<text x="310.8" y="80" font-size="12" fill="#131722" stroke="#131722" stroke-width="0.25">All,</text>
<text x="333.1" y="80" font-size="12" fill="#131722" stroke="#131722" stroke-width="0.25">All,</text>
<text x="355.6" y="80" font-size="12" fill="#131722" stroke="#131722" stroke-width="0.25">Tiny,</text>
<text x="384.3" y="80" font-size="12" fill="#131722" stroke="#131722" stroke-width="0.25">All,</text>
<text x="406.4" y="80" font-size="12" fill="#131722" stroke="#131722" stroke-width="0.25">All,</text>
<text x="428.3" y="80" font-size="12" fill="#131722" stroke="#131722" stroke-width="0.25">Small,</text>
<text x="466.3" y="80" font-size="12" fill="#131722" stroke="#131722" stroke-width="0.25">50,</text>
<text x="486.6" y="80" font-size="12" fill="#131722" stroke="#131722" stroke-width="0.25">10,</text>
<text x="507.1" y="80" font-size="12" fill="#131722" stroke="#131722" stroke-width="0.25">10,</text>
<text x="527" y="80" font-size="12" fill="#131722" stroke="#131722" stroke-width="0.25">Atr,</text>
<text x="550.4" y="80" font-size="12" fill="#131722" stroke="#131722" stroke-width="0.25">3,</text>
<text x="564.3" y="80" font-size="12" fill="#131722" stroke="#131722" stroke-width="0.25">0.1,</text>
<text x="590" y="80" font-size="12" fill="#131722" stroke="#131722" stroke-width="0.25">Tiny,</text>
<text x="619.3" y="80" font-size="12" fill="#131722" stroke="#131722" stroke-width="0.25">,</text>
<text x="627.1" y="80" font-size="12" fill="#131722" stroke="#131722" stroke-width="0.25">1,</text>
<text x="640.8" y="80" font-size="12" fill="#131722" stroke="#131722" stroke-width="0.25" font-weight="normal" textLength="21.2" lengthAdjust="spacingAndGlyphs">——,</text>
<text x="667.1" y="80" font-size="12" fill="#131722" stroke="#131722" stroke-width="0.25" font-weight="normal" textLength="21.4" lengthAdjust="spacingAndGlyphs">——,</text>
<text x="693.5" y="80" font-size="12" fill="#131722" stroke="#131722" stroke-width="0.25" font-weight="normal" textLength="21.0" lengthAdjust="spacingAndGlyphs">——)</text>
<text x="18.0" y="97" font-size="12" fill="#131722" stroke="#131722" stroke-width="0.25" font-weight="normal" textLength="52.0" lengthAdjust="spacingAndGlyphs">Vol · LINK</text>
<text x="77" y="97" font-size="12" fill="#f7525f" stroke="#f7525f" stroke-width="0.25" font-weight="normal" textLength="38.4" lengthAdjust="spacingAndGlyphs">36.16 K</text>
<text x="1214" y="92.5" font-size="12" fill="#131722" stroke="#131722" stroke-width="0.2" font-weight="normal" text-anchor="start" >19.00</text>
<text x="1214" y="125.0" font-size="12" fill="#131722" stroke="#131722" stroke-width="0.2" font-weight="normal" text-anchor="start" >18.50</text>
<text x="1214" y="157.5" font-size="12" fill="#131722" stroke="#131722" stroke-width="0.2" font-weight="normal" text-anchor="start" >18.00</text>
<text x="1214" y="190.0" font-size="12" fill="#131722" stroke="#131722" stroke-width="0.2" font-weight="normal" text-anchor="start" >17.50</text>
<text x="1214" y="222.5" font-size="12" fill="#131722" stroke="#131722" stroke-width="0.2" font-weight="normal" text-anchor="start" >17.00</text>
<text x="1214" y="255.0" font-size="12" fill="#131722" stroke="#131722" stroke-width="0.2" font-weight="normal" text-anchor="start" >16.50</text>
<text x="1214" y="287.5" font-size="12" fill="#131722" stroke="#131722" stroke-width="0.2" font-weight="normal" text-anchor="start" >16.00</text>
<text x="1214" y="352.5" font-size="12" fill="#131722" stroke="#131722" stroke-width="0.2" font-weight="normal" text-anchor="start" >15.00</text>
<text x="1214" y="385.0" font-size="12" fill="#131722" stroke="#131722" stroke-width="0.2" font-weight="normal" text-anchor="start" >14.50</text>
<text x="1214" y="450.0" font-size="12" fill="#131722" stroke="#131722" stroke-width="0.2" font-weight="normal" text-anchor="start" >13.50</text>
<text x="1214" y="482.5" font-size="12" fill="#131722" stroke="#131722" stroke-width="0.2" font-weight="normal" text-anchor="start" >13.00</text>
<clipPath id="taxis"><rect x="10" y="484" width="1195" height="26"/></clipPath><g clip-path="url(#taxis)">
<text x="14.6" y="501" font-size="12" fill="#131722" stroke="#131722" stroke-width="0.2" font-weight="normal" text-anchor="middle" >17</text>
<text x="66.5" y="501" font-size="12" fill="#131722" stroke="#131722" stroke-width="0.2" font-weight="normal" text-anchor="middle" >18</text>
<text x="118.4" y="501" font-size="12" fill="#131722" stroke="#131722" stroke-width="0.2" font-weight="normal" text-anchor="middle" >19</text>
<text x="170.4" y="501" font-size="12" fill="#131722" stroke="#131722" stroke-width="0.2" font-weight="normal" text-anchor="middle" >20</text>
<text x="222.3" y="501" font-size="12" fill="#131722" stroke="#131722" stroke-width="0.2" font-weight="normal" text-anchor="middle" >21</text>
<text x="274.2" y="501" font-size="12" fill="#131722" stroke="#131722" stroke-width="0.2" font-weight="normal" text-anchor="middle" >22</text>
<text x="326.1" y="501" font-size="12" fill="#131722" stroke="#131722" stroke-width="0.2" font-weight="normal" text-anchor="middle" >23</text>
<text x="378.1" y="501" font-size="12" fill="#131722" stroke="#131722" stroke-width="0.2" font-weight="normal" text-anchor="middle" >24</text>
<text x="430.0" y="501" font-size="12" fill="#131722" stroke="#131722" stroke-width="0.2" font-weight="normal" text-anchor="middle" >25</text>
<text x="481.9" y="501" font-size="12" fill="#131722" stroke="#131722" stroke-width="0.2" font-weight="normal" text-anchor="middle" >26</text>
<text x="533.9" y="501" font-size="12" fill="#131722" stroke="#131722" stroke-width="0.2" font-weight="normal" text-anchor="middle" >27</text>
<text x="585.8" y="501" font-size="12" fill="#131722" stroke="#131722" stroke-width="0.2" font-weight="normal" text-anchor="middle" >28</text>
<text x="637.7" y="501" font-size="12" fill="#131722" stroke="#131722" stroke-width="0.2" font-weight="normal" text-anchor="middle" >29</text>
<text x="689.7" y="501" font-size="12" fill="#131722" stroke="#131722" stroke-width="0.2" font-weight="normal" text-anchor="middle" >30</text>
<text x="741.6" y="501" font-size="12" fill="#131722" stroke="#131722" stroke-width="0.2" font-weight="normal" text-anchor="middle" >31</text>
<text x="793.5" y="501" font-size="12" fill="#131722" font-weight="bold" text-anchor="middle" >Nov</text>
<text x="845.4" y="501" font-size="12" fill="#131722" stroke="#131722" stroke-width="0.2" font-weight="normal" text-anchor="middle" >2</text>
<text x="897.4" y="501" font-size="12" fill="#131722" stroke="#131722" stroke-width="0.2" font-weight="normal" text-anchor="middle" >3</text>
<text x="949.3" y="501" font-size="12" fill="#131722" stroke="#131722" stroke-width="0.2" font-weight="normal" text-anchor="middle" >4</text>
<text x="1001.2" y="501" font-size="12" fill="#131722" stroke="#131722" stroke-width="0.2" font-weight="normal" text-anchor="middle" >5</text>
<text x="1053.2" y="501" font-size="12" fill="#131722" stroke="#131722" stroke-width="0.2" font-weight="normal" text-anchor="middle" >6</text>
<text x="1105.1" y="501" font-size="12" fill="#131722" stroke="#131722" stroke-width="0.2" font-weight="normal" text-anchor="middle" >7</text>
<text x="1157.0" y="501" font-size="12" fill="#131722" stroke="#131722" stroke-width="0.2" font-weight="normal" text-anchor="middle" >8</text>
</g>
<rect x="1206" y="290" width="43" height="33.5" rx="2" fill="#2196f3"/>
<rect x="1206" y="403" width="43" height="17" rx="2" fill="#2196f3"/>
<rect x="1206" y="425" width="43" height="17" rx="2" fill="#2196f3"/>
<rect x="1206" y="345" width="59.5" height="30.5" rx="2" fill="#f23645"/>
<rect x="1145" y="345" width="60" height="17" rx="2" fill="#f23645"/>
<text x="1214.5" y="302.8" font-size="12" fill="#fff" font-weight="bold" text-anchor="start" >15.69</text>
<text x="1214.5" y="319.6" font-size="12" fill="#fff" font-weight="bold" text-anchor="start" >15.50</text>
<text x="1214.5" y="415.8" font-size="12" fill="#fff" font-weight="bold" text-anchor="start" >14.03</text>
<text x="1214.5" y="437.2" font-size="12" fill="#fff" font-weight="bold" text-anchor="start" >13.69</text>
<text x="1214.5" y="357.4" font-size="12" fill="#fff" font-weight="bold" text-anchor="start" >14.92</text>
<text x="1214" y="371" font-size="12" fill="rgba(255,255,255,0.8)" font-weight="normal" text-anchor="start" >03:43:07</text>
<text x="1149" y="357.4" font-size="12" fill="#fff" font-weight="bold" text-anchor="start" textLength="51" lengthAdjust="spacingAndGlyphs">LINKUSDT</text>
<circle cx="1079.5" cy="470.2" r="11.2" fill="#fff"/>
<circle cx="1079.5" cy="470.2" r="9.6" fill="#fff" stroke="#9c27b0" stroke-width="1.7"/>
<path d="M1081.87 465.04 L1083.02 465.72 L1079.24 469.14 L1083.86 469.77 L1083.55 470.82 L1077.14 475.86 L1075.98 475.34 L1079.76 471.5 L1075.14 471.24 L1075.46 470.08 Z" fill="#9c27b0"/>
<g fill="#131313">
<path d="M12.2 533.2 H23.8 V547.7 H18.2 V538.6 H12.2 Z"/>
<circle cx="29" cy="536" r="3"/>
<path d="M35.35 533.2 H41.7 L35.8 547.7 H29.1 Z"/>
</g>
<text x="49" y="547.8" font-size="21" font-weight="bold" fill="#131313" textLength="120.5" lengthAdjust="spacingAndGlyphs">TradingView</text>
</svg>
</body></html>
